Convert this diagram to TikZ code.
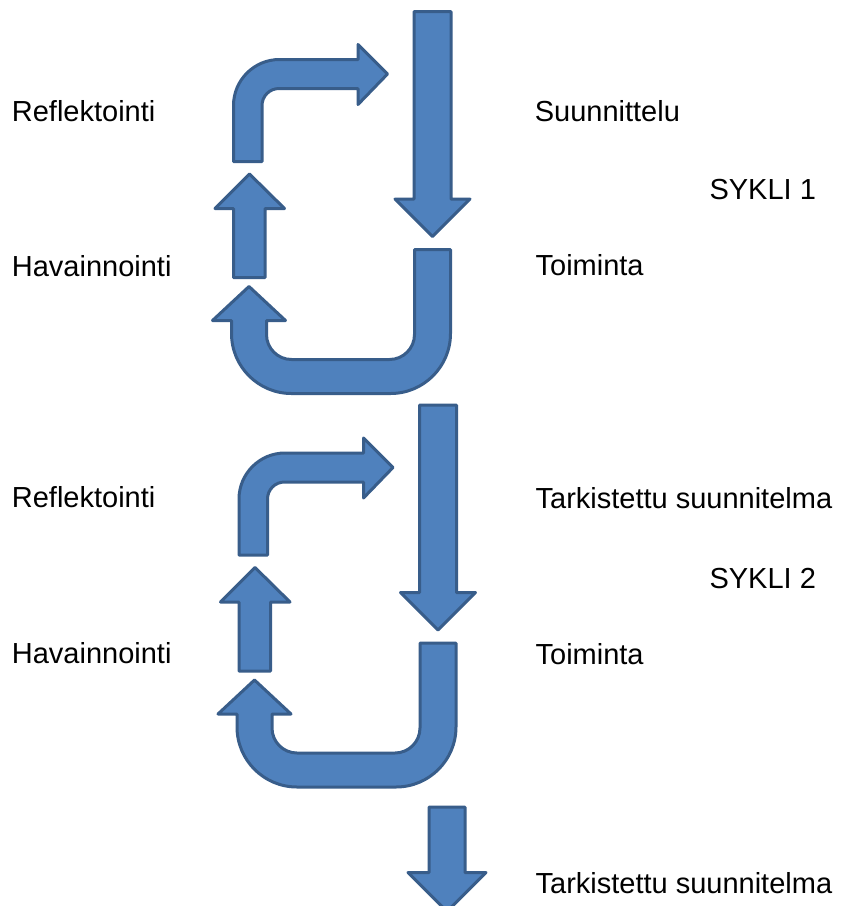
\documentclass[tikz,border=0pt]{standalone}
\usepackage{fontspec}
\setmainfont{Liberation Sans}
\definecolor{arrowfill}{HTML}{4F81BD}
\definecolor{arrowline}{HTML}{385D8A}
\begin{document}
\begin{tikzpicture}[x=1pt,y=-1pt,
  blockarrow/.style={fill=arrowfill,draw=arrowline,line width=3pt,line join=round},
  lbl/.style={anchor=base west,inner sep=0pt,font=\fontsize{29}{35}\selectfont}]
\useasboundingbox (0,0) rectangle (844,906);
\fill[white] (0,0) rectangle (844,906);
% ---------- cycle 1 and cycle 2 (shifted) ----------
\foreach \dx/\dy in {0/0,5.5/393.5}{
\begin{scope}[shift={(\dx,\dy)}]
% long down arrow
\path[blockarrow] (414,11.5) -- (451,11.5) -- (451,199) -- (470,199) -- (432.5,236.5)
  -- (395,199) -- (414,199) -- cycle;
% bent arrow (up then right)
\path[blockarrow] (233.5,161.5) -- (233.5,105.5)
  arc[start angle=180,end angle=270,radius=46] -- (358,59.5) -- (358,44.5)
  -- (387.5,74) -- (358,104.5) -- (358,88.5) -- (279,88.5)
  arc[start angle=270,end angle=180,radius=17] -- (262,161.5) -- cycle;
% short up arrow
\path[blockarrow] (233.5,277.5) -- (233.5,208.5) -- (215,208.5) -- (249.5,174)
  -- (284.5,208.5) -- (265,208.5) -- (265,277.5) -- cycle;
% U-turn arrow
\path[blockarrow] (450.5,249.5) -- (450.5,333.5)
  arc[start angle=0,end angle=90,radius=60] -- (291.5,393.5)
  arc[start angle=90,end angle=180,radius=60] -- (231.5,320.5) -- (212.5,320.5)
  -- (249,286.5) -- (285.5,320.5) -- (266.5,320.5) -- (266.5,334.5)
  arc[start angle=180,end angle=90,radius=25] -- (389.5,359.5)
  arc[start angle=90,end angle=0,radius=25] -- (414.5,249.5) -- cycle;
\end{scope}
}
% final down arrow
\path[blockarrow] (429,807) -- (465,807) -- (465,872.5) -- (486,872.5) -- (447,911.5)
  -- (408,872.5) -- (429,872.5) -- cycle;
% ---------- labels ----------
\node[lbl] (refl1) at (11.7,121.7) {Reflektointi};
\node[lbl] (hav1) at (11.7,276) {Havainnointi};
\node[lbl] (suun) at (534.6,121.7) {Suunnittelu};
\node[lbl] (sykli1) at (709.3,199) {SYKLI 1};
\node[lbl] (toim1) at (535.4,275) {Toiminta};
\node[lbl] (refl2) at (11.7,507.5) {Reflektointi};
\node[lbl] (hav2) at (11.7,663) {Havainnointi};
\node[lbl] (tark1) at (535.4,508.3) {Tarkistettu suunnitelma};
\node[lbl] (sykli2) at (709.3,588.3) {SYKLI 2};
\node[lbl] (toim2) at (535.4,664) {Toiminta};
\node[lbl] (tark2) at (535.4,893.3) {Tarkistettu suunnitelma};
\end{tikzpicture}
\end{document}
